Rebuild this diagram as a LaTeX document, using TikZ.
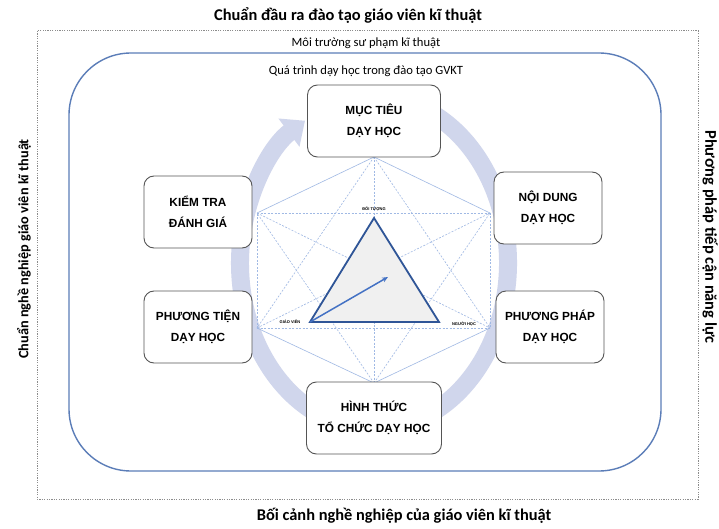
\documentclass[tikz,border=0pt]{standalone}
\usepackage{fontspec}
\setmainfont{Carlito}
\newfontfamily\boxfont{Liberation Sans}
\usetikzlibrary{arrows.meta}
\definecolor{ringc}{RGB}{208,214,236}
\definecolor{framec}{RGB}{91,125,184}
\definecolor{hexc}{RGB}{160,185,228}
\definecolor{tric}{RGB}{47,85,151}
\definecolor{arrc}{RGB}{68,114,196}
\definecolor{dotc}{RGB}{140,140,140}
\definecolor{boxc}{RGB}{85,85,85}
\definecolor{trifill}{RGB}{240,240,240}
\begin{document}
\begin{tikzpicture}[x=1pt,y=-1pt,
  stepbox/.style={draw=boxc, line width=0.9pt, rounded corners=10pt, fill=white,
    minimum width=108pt, minimum height=72pt, align=center, inner sep=0pt,
    font=\boxfont\bfseries\fontsize{11.8}{21}\selectfont},
  bigtitle/.style={font=\bfseries\fontsize{16.4}{18}\selectfont, inner sep=0pt},
  sidetitle/.style={font=\bfseries\fontsize{14.3}{16}\selectfont, inner sep=0pt},
  smalltitle/.style={font=\fontsize{12.6}{14}\selectfont, inner sep=0pt},
  vlabel/.style={font=\boxfont\bfseries\fontsize{4}{5}\selectfont, inner sep=0pt},
  hexsolid/.style={draw=hexc, line width=0.6pt},
  hexdash/.style={draw=hexc, line width=0.6pt, dash pattern=on 2pt off 1.5pt}
]
\useasboundingbox (0,0) rectangle (719,529);
\fill[white] (0,0) rectangle (719,529);

% outer dotted frame and blue rounded frame
\draw[dotc, line width=1pt, dash pattern=on 1.2pt off 1.2pt] (37,31) rectangle (698,499);
\draw[framec, line width=1.4pt, rounded corners=62pt] (69,53) rectangle (661,471);

% titles
\node[bigtitle] (ttop) at (348,16) {Chuẩn đầu ra đào tạo giáo viên kĩ thuật};
\node[bigtitle] (tbot) at (404,516) {Bối cảnh nghề nghiệp của giáo viên kĩ thuật};
\node[sidetitle, rotate=90] (tleft) at (24,249) {Chuẩn nghề nghiệp giáo viên kĩ thuật};
\node[bigtitle, rotate=-90] (tright) at (710,237) {Phương pháp tiếp cận năng lực};
\node[smalltitle] (tenv) at (366,43) {Môi trường sư phạm kĩ thuật};
\node[smalltitle] (tproc) at (366,71) {Quá trình dạy học trong đào tạo GVKT};

% circular arrow
\draw[ringc, line width=18pt, -{Triangle[length=20pt,width=34pt]}]
  (374,263) ++(280:134 and 166) arc[start angle=280, end angle=599, x radius=134, y radius=166];

% hexagon
\coordinate (h1) at (374,157);
\coordinate (h2) at (490,213);
\coordinate (h3) at (490,328);
\coordinate (h4) at (374,383);
\coordinate (h5) at (257,328);
\coordinate (h6) at (257,213);
\draw[hexsolid] (h6) -- (h1) -- (h2);
\draw[hexsolid] (h3) -- (h4) -- (h5);
\draw[hexdash] (h2) -- (h3);
\draw[hexdash] (h5) -- (h6);
\draw[hexdash] (h6) -- (h2);
\draw[hexdash] (h5) -- (h3);
\draw[hexdash] (h1) -- (h4);
\draw[hexdash] (h6) -- (h3);
\draw[hexdash] (h5) -- (h2);
\draw[hexdash] (h1) -- (h5);
\draw[hexdash] (h1) -- (h3);
\draw[hexdash] (h4) -- (h6);
\draw[hexdash] (h4) -- (h2);

% triangle
\coordinate (ta) at (374,218);
\coordinate (tb) at (310,322);
\coordinate (tc) at (439,322);
\coordinate (td) at (388,277);
\draw[tric, fill=trifill, line width=1.8pt, line join=miter] (ta) -- (tb) -- (tc) -- cycle;
\draw[arrc, line width=1.5pt, -{Stealth[length=6pt,width=5pt]}] (tb) -- (td);
\node[vlabel] (la) at (374,209) {ĐỐI TƯỢNG};
\node[vlabel] (lb) at (290,322) {GIÁO VIÊN};
\node[vlabel] (lc) at (464,324) {NGƯỜI HỌC};

% boxes
\node[stepbox, minimum width=133pt] (mt) at (374,121) {MỤC TIÊU\\DẠY HỌC};
\node[stepbox] (nd) at (548,208) {NỘI DUNG\\DẠY HỌC};
\node[stepbox] (pp) at (550,327) {PHƯƠNG PHÁP\\DẠY HỌC};
\node[stepbox, minimum width=135pt] (ht) at (374,418) {HÌNH THỨC\\TỔ CHỨC DẠY HỌC};
\node[stepbox] (pt) at (198,327) {PHƯƠNG TIỆN\\DẠY HỌC};
\node[stepbox] (kt) at (198,212) {KIỂM TRA\\ĐÁNH GIÁ};
\end{tikzpicture}
\end{document}
